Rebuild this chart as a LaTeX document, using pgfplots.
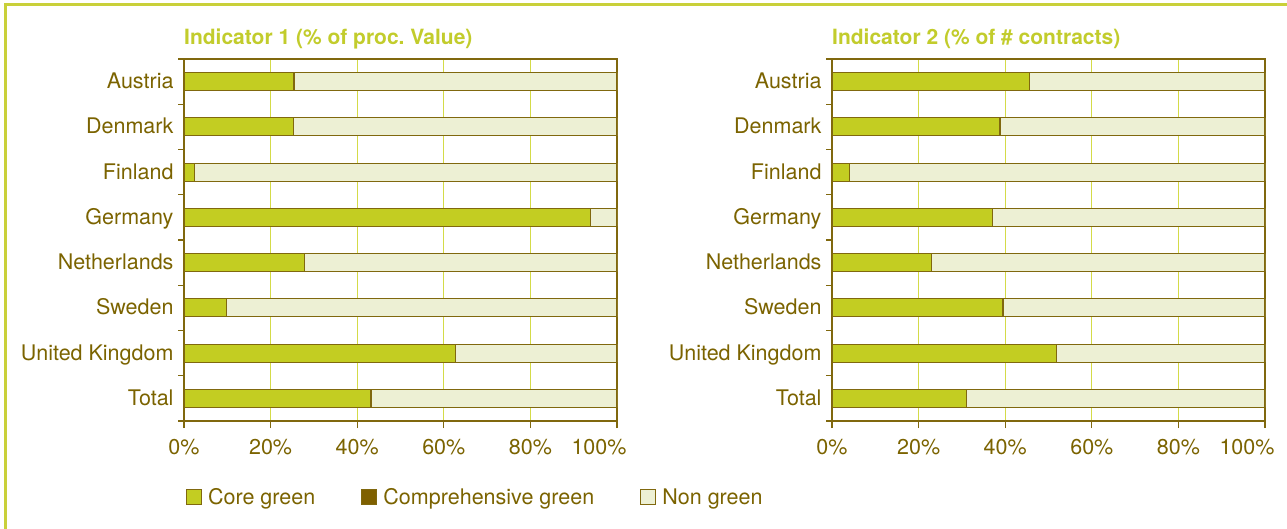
\documentclass[border=0pt]{standalone}
\usepackage{pgfplots}
\pgfplotsset{compat=1.18}
\usepackage{fontspec}
\setmainfont{TeX Gyre Heros}
\definecolor{txtcol}{HTML}{7B6300}
\definecolor{axcol}{HTML}{80680E}
\definecolor{coreg}{HTML}{C3CD22}
\definecolor{nong}{HTML}{EDF0D4}
\definecolor{compg}{HTML}{7F6000}
\definecolor{gridc}{HTML}{D4DB48}
\definecolor{titlec}{HTML}{C2CC2C}
\definecolor{framec}{HTML}{C9D03A}
\pgfplotsset{
  mybar/.style={
    xbar stacked, scale only axis, width=433pt, height=362pt,
    xmin=0, xmax=100, ymin=-0.5, ymax=7.5, y dir=reverse,
    enlargelimits=false,
    bar width=18pt,
    axis line style={axcol, line width=1.2pt},
    xtick={0,20,...,100},
    xticklabels={0\%,20\%,40\%,60\%,80\%,\kern-36pt 100\%},
    ytick={0,...,7},
    yticklabels={Austria,Denmark,Finland,Germany,Netherlands,Sweden,United Kingdom,Total},
    minor ytick={-0.5,0.5,...,7.5},
    tick align=outside, major tick length=7pt, minor tick length=6pt,
    major y tick style={draw=none},
    tick style={axcol, line width=1.2pt},
    xtick pos=lower, ytick pos=left,
    xmajorgrids, major x grid style={gridc, line width=1.3pt},
    ticklabel style={font=\fontsize{21.5}{25}\selectfont, text=txtcol},
    xticklabel style={yshift=-8pt},
    yticklabel style={anchor=base east, yshift=-7pt},
    title style={at={(0,1)}, anchor=base west, yshift=9pt, inner sep=0pt,
      font=\bfseries\fontsize{21}{25}\selectfont, text=titlec},
  },
  barsty/.style={draw=axcol, line width=1.2pt,
    legend image code/.code={\draw[##1] (0pt,-7.5pt) rectangle (15pt,7.5pt);}},
}
\begin{document}
\begin{tikzpicture}
\useasboundingbox (0,0) rectangle (1287pt,-529pt);
\draw[framec, line width=3pt] (5pt,-540pt) -- (5pt,-4.5pt) -- (1295pt,-4.5pt);
\begin{axis}[mybar, at={(184pt,-59pt)}, anchor=north west,
  title={Indicator 1 (\% of proc.\ Value)},
  legend columns=3,
  legend style={at={(axis description cs:0.004,-0.21)}, anchor=west, draw=none, fill=none,
    inner sep=0pt, font=\fontsize{21.5}{25}\selectfont, text=txtcol,
    nodes={inner sep=0pt},
    /tikz/every odd column/.append style={column sep=6pt},
    /tikz/every even column/.append style={column sep=46pt}},
  legend cell align=left,
]
\addplot[barsty, fill=coreg] coordinates {(25.4,0) (25.2,1) (2.5,2) (93.8,3) (27.8,4) (9.9,5) (62.7,6) (43.2,7)};
\addplot[barsty, fill=compg] coordinates {(0,0) (0,1) (0,2) (0,3) (0,4) (0,5) (0,6) (0,7)};
\addplot[barsty, fill=nong] coordinates {(74.6,0) (74.8,1) (97.5,2) (6.2,3) (72.2,4) (90.1,5) (37.3,6) (56.8,7)};
\legend{Core green, Comprehensive green, Non green}
\end{axis}
\begin{axis}[mybar, at={(832pt,-59pt)}, anchor=north west,
  title={Indicator 2 (\% of \# contracts)},
]
\addplot[barsty, fill=coreg] coordinates {(45.7,0) (38.8,1) (4.0,2) (37.0,3) (22.9,4) (39.5,5) (51.9,6) (31.0,7)};
\addplot[barsty, fill=compg] coordinates {(0,0) (0,1) (0,2) (0,3) (0,4) (0,5) (0,6) (0,7)};
\addplot[barsty, fill=nong] coordinates {(54.3,0) (61.2,1) (96.0,2) (63.0,3) (77.1,4) (60.5,5) (48.1,6) (69.0,7)};
\end{axis}
\end{tikzpicture}
\end{document}
